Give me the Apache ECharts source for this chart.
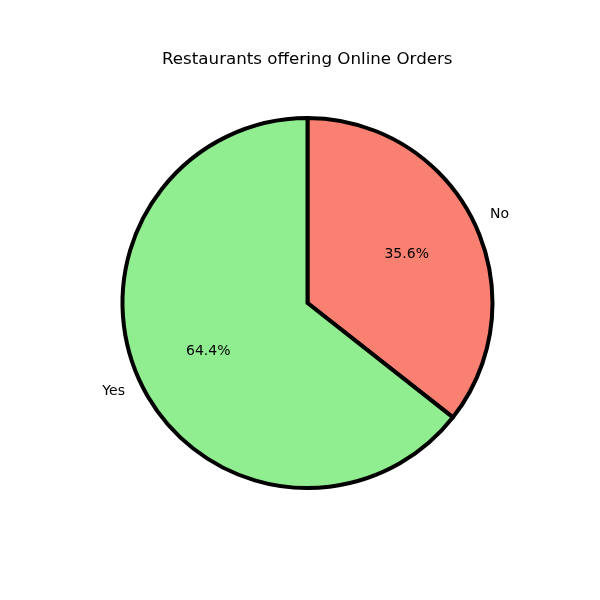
<!DOCTYPE html>
<html><head><meta charset="utf-8">
<script src="https://cdn.jsdelivr.net/npm/echarts@6/dist/echarts.min.js"></script>
<style>html,body{margin:0;padding:0;background:#fff}#c{width:600px;height:600px}</style>
</head><body><div id="c"></div>
<script>
const categories = ['No', 'Yes'];
const values = [35.6, 64.4];
const colors = ['#FA8072', '#90EE90'];
const titleText = 'Restaurants offering Online Orders';

const FONT = 'DejaVu Sans';
const R = 185;
const center = [307.5, 303];
const chart = echarts.init(document.getElementById('c'));
const mainData = categories.map((c, i) => ({ name: c, value: values[i], itemStyle: { color: colors[i] } }));
const labelData = categories.map((c, i) => ({ name: c, value: values[i] }));
chart.setOption({
  animation: false,
  backgroundColor: '#fff',
  title: { text: titleText, left: 162, top: 51, padding: 0, textStyle: { fontFamily: FONT, fontSize: 16.7, fontWeight: 'normal', color: '#000' } },
  series: [
    {
      type: 'pie', center: center, radius: [0, R], startAngle: 90, clockwise: true,
      avoidLabelOverlap: false, silent: true,
      itemStyle: { borderColor: '#000', borderWidth: 4 },
      label: { show: true, position: 'outer', formatter: '{b}', fontFamily: FONT, fontSize: 14, color: '#000', distanceToLabelLine: 0 },
      labelLine: { show: false, length: 18, length2: 0 },
      emphasis: { disabled: true },
      data: mainData
    },
    {
      type: 'pie', center: center, radius: [0, R * 1.16], startAngle: 90, clockwise: true,
      avoidLabelOverlap: false, silent: true,
      itemStyle: { color: 'rgba(0,0,0,0)', borderWidth: 0 },
      label: { show: true, position: 'inside', formatter: p => p.percent.toFixed(1) + '%', fontFamily: FONT, fontSize: 14, color: '#000' },
      labelLine: { show: false },
      emphasis: { disabled: true },
      data: labelData
    }
  ]
});
</script></body></html>
